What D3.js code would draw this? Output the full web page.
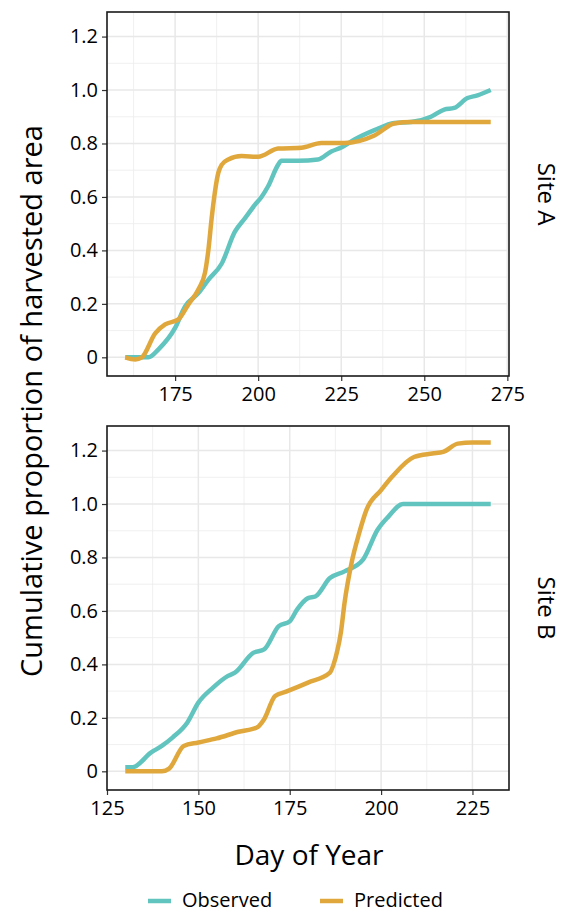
<!DOCTYPE html>
<html>
<head>
<meta charset="utf-8">
<script src="https://cdn.jsdelivr.net/npm/d3@7"></script>
<style>
  body { margin: 0; background: #fff; }
  text { font-family: 'Open Sans', sans-serif; fill: #000; }
</style>
</head>
<body>
<div class="container"></div>
<script>
// Site A
const obsADay = [160, 167, 170, 175, 178, 182, 185, 189, 193, 196, 199, 201, 203, 206, 207, 212, 218, 222, 225, 229, 235, 241, 246, 252, 256, 259, 263, 266, 270];
const obsAVal = [0, 0, 0.03, 0.11, 0.19, 0.24, 0.29, 0.35, 0.47, 0.52, 0.57, 0.6, 0.64, 0.72, 0.735, 0.735, 0.74, 0.77, 0.785, 0.815, 0.85, 0.877, 0.88, 0.9, 0.927, 0.933, 0.97, 0.98, 1.0];
const predADay = [160, 163, 165, 169, 172, 176, 179, 182, 184, 185, 186, 187, 188, 189, 191, 195, 200, 206, 213, 219, 226, 235, 241, 246, 270];
const predAVal = [0, -0.008, 0, 0.09, 0.123, 0.142, 0.198, 0.254, 0.317, 0.4, 0.52, 0.62, 0.69, 0.72, 0.74, 0.753, 0.75, 0.781, 0.784, 0.802, 0.802, 0.83, 0.875, 0.88, 0.88];

// Site B
const obsBDay = [130, 132, 137, 140, 143, 147, 150, 154, 158, 160, 165, 168, 172, 175, 177, 180, 182, 186, 190, 195, 199, 202, 206, 208, 230];
const obsBVal = [0.015, 0.015, 0.07, 0.095, 0.127, 0.183, 0.257, 0.313, 0.356, 0.369, 0.443, 0.456, 0.543, 0.561, 0.605, 0.648, 0.654, 0.723, 0.748, 0.791, 0.903, 0.953, 1.0, 1.0, 1.0];
const predBDay = [130, 140, 142, 146, 150, 155, 161, 166, 168, 171, 174, 180, 186, 187, 188, 189, 190, 192, 194, 196, 200, 203, 209, 214, 217, 221, 225, 230];
const predBVal = [0, 0, 0.01, 0.095, 0.108, 0.123, 0.148, 0.164, 0.195, 0.282, 0.298, 0.332, 0.369, 0.4, 0.45, 0.52, 0.63, 0.785, 0.891, 0.978, 1.052, 1.102, 1.176, 1.189, 1.195, 1.226, 1.23, 1.23];

const sites = ['Site A', 'Site B'];
const seriesNames = ['Observed', 'Predicted'];
const colors = ['#62c4be', '#e0a83c'];

const xTicksA = [175, 200, 225, 250, 275];
const xTicksB = [125, 150, 175, 200, 225];
const yTicks = [0, 0.2, 0.4, 0.6, 0.8, 1.0, 1.2];
const yTickLabels = ['0', '0.2', '0.4', '0.6', '0.8', '1.0', '1.2'];

const zip = (days, vals) => days.map((d, i) => ({ day: d, val: vals[i] }));

const panels = [
  { name: sites[0], ticks: xTicksA, series: [zip(obsADay, obsAVal), zip(predADay, predAVal)] },
  { name: sites[1], ticks: xTicksB, series: [zip(obsBDay, obsBVal), zip(predBDay, predBVal)] },
];

const width = 564;
const height = 913;
const panelLeft = 107;
const panelRight = 509;
const panelTops = [12, 426];
const panelH = 364;

// ggplot-like 5% expansion
const expand = (ext) => {
  const pad = (ext[1] - ext[0]) * 0.05;
  return [ext[0] - pad, ext[1] + pad];
};

const allVals = [].concat(obsAVal, predAVal, obsBVal, predBVal);
const yDomain = expand(d3.extent(allVals));

const svg = d3.select('.container')
  .append('svg')
  .attr('width', width)
  .attr('height', height);

panels.forEach((p, pi) => {
  const top = panelTops[pi];
  const allDays = [].concat(p.series[0].map(d => d.day), p.series[1].map(d => d.day));
  const xScale = d3.scaleLinear()
    .domain(expand(d3.extent(allDays)))
    .range([panelLeft, panelRight]);
  const yScale = d3.scaleLinear()
    .domain(yDomain)
    .range([top + panelH, top]);

  const g = svg.append('g').attr('class', 'panel');

  // minor grid
  const xMinor = p.ticks.slice(0, -1).map((t, i) => (t + p.ticks[i + 1]) / 2);
  xMinor.unshift(p.ticks[0] - 12.5);
  const yMinor = yTicks.slice(0, -1).map((t, i) => (t + yTicks[i + 1]) / 2);
  yMinor.unshift(-0.1);

  const [x0, x1] = xScale.domain();
  g.selectAll('.xminor')
    .data(xMinor.filter(t => t > x0 && t < x1))
    .enter()
    .append('line')
    .attr('x1', d => xScale(d)).attr('x2', d => xScale(d))
    .attr('y1', top).attr('y2', top + panelH)
    .attr('stroke', '#ececec').attr('stroke-width', 0.8);
  g.selectAll('.yminor')
    .data(yMinor.filter(t => t > yDomain[0] && t < yDomain[1]))
    .enter()
    .append('line')
    .attr('x1', panelLeft).attr('x2', panelRight)
    .attr('y1', d => yScale(d)).attr('y2', d => yScale(d))
    .attr('stroke', '#ececec').attr('stroke-width', 0.8);

  // major grid
  g.selectAll('.xmajor')
    .data(p.ticks.filter(t => t > x0 && t < x1))
    .enter()
    .append('line')
    .attr('x1', d => xScale(d)).attr('x2', d => xScale(d))
    .attr('y1', top).attr('y2', top + panelH)
    .attr('stroke', '#e8e8e8').attr('stroke-width', 1.5);
  g.selectAll('.ymajor')
    .data(yTicks)
    .enter()
    .append('line')
    .attr('x1', panelLeft).attr('x2', panelRight)
    .attr('y1', d => yScale(d)).attr('y2', d => yScale(d))
    .attr('stroke', '#e8e8e8').attr('stroke-width', 1.5);

  // lines
  const linePath = d3.line()
    .x(d => xScale(d.day))
    .y(d => yScale(d.val))
    .curve(d3.curveMonotoneX);

  g.selectAll('.series')
    .data(p.series)
    .enter()
    .append('path')
    .attr('d', d => linePath(d))
    .attr('fill', 'none')
    .attr('stroke', (d, i) => colors[i])
    .attr('stroke-width', 4.5)
    .attr('stroke-linejoin', 'round');

  // axes
  const xAxis = d3.axisBottom(xScale).tickValues(p.ticks).tickSize(5).tickPadding(6);
  const yAxis = d3.axisLeft(yScale).tickValues(yTicks).tickSize(5).tickPadding(4)
    .tickFormat((d, i) => yTickLabels[i]);

  const gx = svg.append('g')
    .attr('transform', `translate(0, ${top + panelH})`)
    .call(xAxis);
  const gy = svg.append('g')
    .attr('transform', `translate(${panelLeft}, 0)`)
    .call(yAxis);
  [gx, gy].forEach(a => {
    a.select('.domain').remove();
    a.selectAll('line').attr('stroke', '#333').attr('stroke-width', 1.2);
    a.selectAll('text').attr('font-size', 20).attr('fill', '#111')
      .attr('font-family', "'Open Sans', sans-serif");
  });

  // border
  svg.append('rect')
    .attr('x', panelLeft).attr('y', top)
    .attr('width', panelRight - panelLeft).attr('height', panelH)
    .attr('fill', 'none').attr('stroke', '#1a1a1a').attr('stroke-width', 1.6);

  // strip label
  svg.append('text')
    .attr('transform', `translate(544, ${top + panelH / 2}) rotate(90)`)
    .attr('text-anchor', 'middle')
    .attr('dominant-baseline', 'middle')
    .attr('font-size', 24)
    .text(p.name);
});

// axis titles
svg.append('text')
  .attr('transform', `translate(42, ${(panelTops[0] + panelTops[1] + panelH) / 2}) rotate(-90)`)
  .attr('text-anchor', 'middle')
  .attr('font-size', 29)
  .text('Cumulative proportion of harvested area');

svg.append('text')
  .attr('x', 309)
  .attr('y', 865)
  .attr('text-anchor', 'middle')
  .attr('font-size', 28)
  .text('Day of Year');

// legend
const legendX = [148, 320];
const legend = svg.append('g')
  .selectAll('g')
  .data(seriesNames)
  .enter()
  .append('g')
  .attr('transform', (d, i) => `translate(${legendX[i]}, 901)`);

legend.append('line')
  .attr('x1', 0).attr('x2', 23)
  .attr('y1', 0).attr('y2', 0)
  .attr('stroke', (d, i) => colors[i])
  .attr('stroke-width', 4.5);

legend.append('text')
  .attr('x', 34)
  .attr('y', 6)
  .attr('font-size', 20)
  .text(d => d);
</script>
</body>
</html>
